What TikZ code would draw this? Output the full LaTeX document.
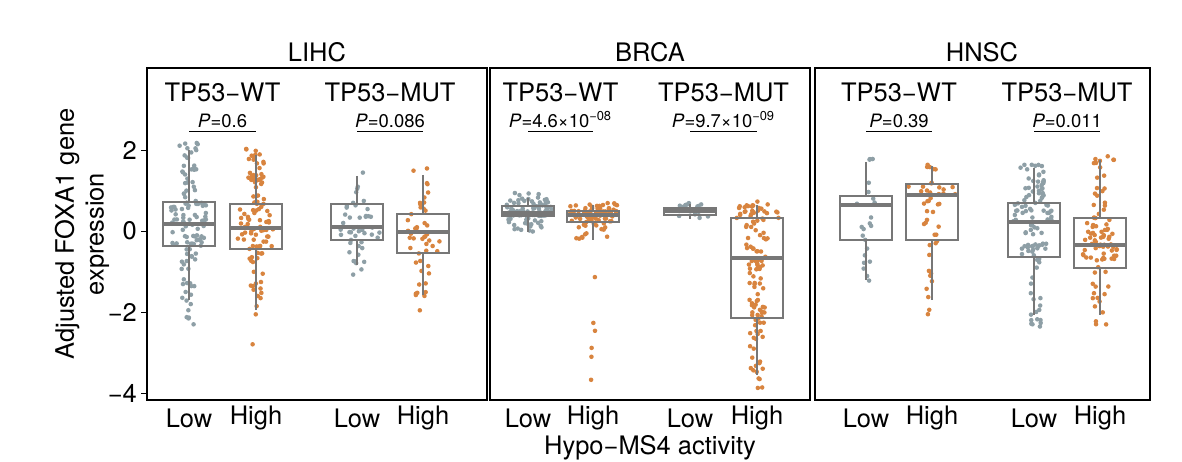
\documentclass[tikz,border=0pt]{standalone}
\usepackage{fontspec}
\setmainfont{TeX Gyre Heros}
\usepackage{tikz}
\definecolor{wtcol}{HTML}{8E9FA6}
\definecolor{mutcol}{HTML}{D8843F}
\definecolor{boxcol}{HTML}{777777}
\tikzset{
  panel/.style={draw=black, line width=0.6pt},
  boxline/.style={draw=boxcol, line width=0.7pt},
  medline/.style={draw=boxcol, line width=1.8pt},
  big/.style={font=\fontsize{14.5}{17}\selectfont},
  pval/.style={font=\fontsize{10.5}{12}\selectfont, inner sep=1pt},
}
% cx, n, seven knots (pixel y, top to bottom)
\newcommand\swarm[9]{
  \foreach \k in {1,...,#2}{
    \pgfmathsetmacro\u{rnd}
    \pgfmathsetmacro\yy{\u<0.05 ? #3+(#4-#3)*\u/0.05 : (\u<0.25 ? #4+(#5-#4)*(\u-0.05)/0.2 : (\u<0.5 ? #5+(#6-#5)*(\u-0.25)/0.25 : (\u<0.75 ? #6+(#7-#6)*(\u-0.5)/0.25 : (\u<0.95 ? #7+(#8-#7)*(\u-0.75)/0.2 : #8+(#9-#8)*(\u-0.95)/0.05))))}
    \pgfmathsetmacro\dd{\u<0.05 ? 0.05/(#4-#3+0.5) : (\u<0.25 ? 0.2/(#5-#4+0.5) : (\u<0.5 ? 0.25/(#6-#5+0.5) : (\u<0.75 ? 0.25/(#7-#6+0.5) : (\u<0.95 ? 0.2/(#8-#7+0.5) : 0.05/(#9-#8+0.5)))))}
    \pgfmathsetmacro\ww{min(24, 2+1500*\dd*min(1,#2/60))}
    \fill[dotc] ({#1+(2*rnd-1)*\ww},\yy) circle (1.3pt);
  }
  \draw[boxline] (#1,#4) -- (#1,#5) (#1,#7) -- (#1,#8);
  \draw[boxline] (#1-26,#5) rectangle (#1+26,#7);
  \draw[medline] (#1-26,#6) -- (#1+26,#6);
}
\begin{document}
\begin{tikzpicture}[x=0.02cm, y=-0.02cm]
  \useasboundingbox (0,0) rectangle (1182,462);
  \pgfmathsetseed{7}

  % dots and boxes
  \colorlet{dotc}{wtcol}
  \swarm{189}{120}{143}{150}{202}{224}{246}{300}{325}
  \colorlet{dotc}{mutcol}
  \swarm{256}{110}{148}{155}{204}{228}{249}{310}{348}
  \colorlet{dotc}{wtcol}
  \swarm{357}{45}{172}{176}{204}{227}{240}{265}{275}
  \colorlet{dotc}{mutcol}
  \swarm{423}{50}{168}{175}{214}{232}{253}{295}{332}
  \colorlet{dotc}{wtcol}
  \swarm{528}{100}{193}{198}{206}{213}{216}{232}{353}
  \colorlet{dotc}{mutcol}
  \swarm{593}{90}{203}{205}{211}{215}{222}{240}{387}
  \colorlet{dotc}{wtcol}
  \swarm{690}{20}{202}{204}{208}{211}{215}{219}{221}
  \colorlet{dotc}{mutcol}
  \swarm{757}{120}{200}{205}{218}{258}{318}{375}{388}
  \colorlet{dotc}{wtcol}
  \swarm{866}{22}{158}{162}{196}{205}{240}{280}{290}
  \colorlet{dotc}{mutcol}
  \swarm{932}{45}{164}{166}{184}{195}{240}{300}{318}
  \colorlet{dotc}{wtcol}
  \swarm{1034}{110}{164}{168}{203}{222}{257}{315}{328}
  \colorlet{dotc}{mutcol}
  \swarm{1100}{90}{155}{160}{218}{245}{268}{315}{328}

  % panels
  \draw[panel] (147,68) rectangle (487,400);
  \draw[panel] (490,68) rectangle (810,400);
  \draw[panel] (815,68) rectangle (1150,400);
  \node[big] (lihc) at (317,52) {LIHC};
  \node[big] (brca) at (650,52) {BRCA};
  \node[big] (hnsc) at (982,52) {HNSC};

  % y axis
  \foreach \v/\py in {2/150, 0/231, -2/312, -4/393}{
    \draw (141,\py) -- (147,\py);
    \node[big, anchor=east, inner sep=1pt] at (139,\py) {\ifnum\v<0 −\the\numexpr-\v\relax\else\v\fi};
  }
  \node[big, rotate=90, align=center] (ylab) at (82,234) {Adjusted FOXA1 gene\\expression};

  % groups and p values
  \foreach \cl/\ch/\g/\p [count=\i] in {
      189/256/WT/0.6, 357/423/MUT/0.086,
      528/593/WT/4.6×10\textsuperscript{−08}, 690/757/MUT/9.7×10\textsuperscript{−09},
      866/932/WT/0.39, 1034/1100/MUT/0.011}{
    \node[big] (grp\i) at ({(\cl+\ch)/2},92) {TP53−\g};
    \node[pval, anchor=south] (p\i) at ({(\cl+\ch)/2},130) {\textit{P}=\p};
    \coordinate (pl\i) at (\cl,131);
    \coordinate (pr\i) at (\ch,131);
    \draw[line width=0.5pt] (pl\i) -- (pr\i);
    \node[big] (lo\i) at (\cl,418) {Low};
    \node[big] (hi\i) at (\ch,418) {High};
  }
  \node[big] (xlab) at (650,448) {Hypo−MS4 activity};
\end{tikzpicture}
\end{document}
